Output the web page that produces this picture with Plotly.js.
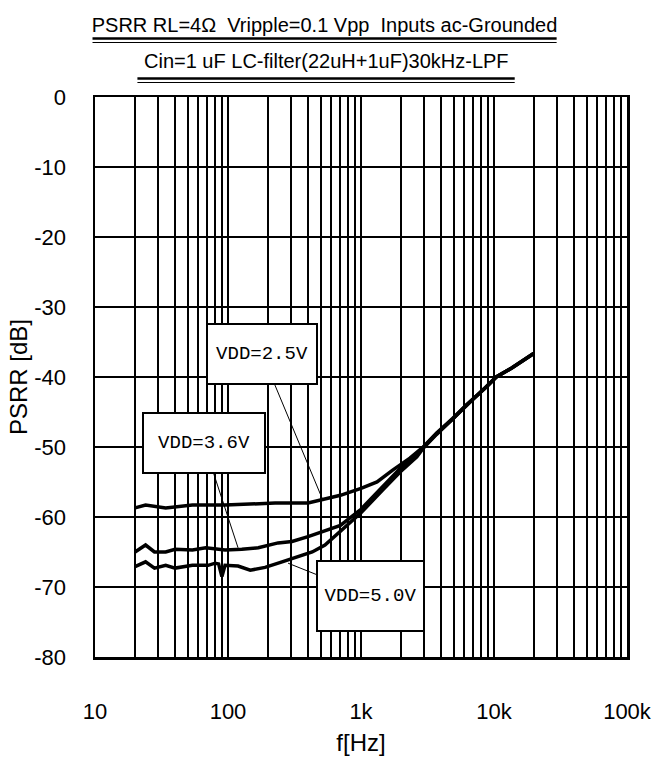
<!DOCTYPE html>
<html>
<head>
<meta charset="utf-8">
<script src="https://cdn.plot.ly/plotly-3.0.1.min.js"></script>
<style>
  html, body { margin: 0; padding: 0; background: #fff; }
  #chart { width: 667px; height: 767px; }
</style>
</head>
<body>
<div id="chart"></div>
<script>
// ---- data ----
const freq25 = [20, 24, 34, 54, 95, 226, 400, 515, 700, 1000, 1320, 1730, 2330, 2900, 3700, 4900, 6200, 8800, 10400, 13600, 20000];
const psrr25 = [-58.7, -58.3, -58.7, -58.3, -58.3, -58.0, -58.0, -57.5, -56.9, -55.9, -55.0, -53.3, -51.6, -50.1, -48.0, -45.9, -44.0, -41.4, -40.0, -38.7, -36.6];

const freq36 = [20, 24, 28, 34, 40, 54, 68, 95, 127, 169, 238, 303, 400, 536, 700, 1000, 1460, 1960, 2630, 2900, 3700, 4900, 6200, 8800, 10400, 13600, 20000];
const psrr36 = [-65.0, -64.0, -65.0, -65.0, -64.6, -64.7, -64.4, -64.7, -64.6, -64.4, -63.7, -63.5, -62.8, -61.9, -61.2, -58.9, -55.6, -53.1, -51.0, -50.2, -48.1, -46.0, -44.0, -41.4, -40.0, -38.7, -36.6];

const freq50 = [20, 24, 28, 34, 40, 54, 71, 80, 85, 90, 95, 119, 147, 190, 255, 336, 430, 536, 700, 1000, 1460, 1960, 2630, 2900, 3700, 4900, 6200, 8800, 10400, 13600, 20000];
const psrr50 = [-67.1, -66.4, -67.3, -66.9, -67.3, -66.9, -66.9, -66.6, -66.7, -68.5, -66.9, -67.0, -67.6, -67.2, -66.4, -65.7, -65.0, -64.0, -62.1, -59.4, -56.1, -53.6, -51.4, -50.3, -48.2, -46.0, -44.0, -41.4, -40.0, -38.7, -36.6];

const xTickVals = [10, 100, 1000, 10000, 100000];
const xTickText = ['10', '100', '1k', '10k', '100k'];
const yTickVals = [0, -10, -20, -30, -40, -50, -60, -70, -80];
const yTickText = ['0', '-10', '-20', '-30', '-40', '-50', '-60', '-70', '-80'];
const minorMultipliers = [2, 3, 4, 5, 6, 7, 8, 9];

const titleLine1 = 'PSRR RL=4\u03A9  Vripple=0.1 Vpp  Inputs ac-Grounded';
const titleLine2 = 'Cin=1 uF LC-filter(22uH+1uF)30kHz-LPF';
const labels = ['VDD=2.5V', 'VDD=3.6V', 'VDD=5.0V'];
// label anchor points on the curves (frequency, dB)
const labelFreq = [517, 119, 283];
const labelDb = [-57.6, -64.4, -66.6];

// ---- layout geometry (pixels) ----
const W = 667, H = 767;
const L = 94.5, R = 627.5, T = 97, B = 657;
const PW = R - L, PH = B - T;
const px = v => (v - L) / PW;
const py = v => (B - v) / PH;

const minorVals = [];
for (const d of [10, 100, 1000, 10000]) for (const m of minorMultipliers) minorVals.push(d * m);

const lineStyle = { color: '#000', width: 3.5 };
const traces = [
  { x: freq25, y: psrr25, name: labels[0], mode: 'lines', line: lineStyle },
  { x: freq36, y: psrr36, name: labels[1], mode: 'lines', line: lineStyle },
  { x: freq50, y: psrr50, name: labels[2], mode: 'lines', line: lineStyle }
];

const boxFont = { family: '"Liberation Mono", "DejaVu Sans Mono", monospace', size: 19, color: '#000' };
const boxes = [
  { cx: 262, cy: 354, w: 108, h: 58 },
  { cx: 203.5, cy: 442.5, w: 120, h: 58 },
  { cx: 370, cy: 596, w: 105, h: 68 }
];

const annotations = labels.map((t, i) => ({
  x: Math.log10(labelFreq[i]), y: labelDb[i], xref: 'x', yref: 'y',
  text: t, font: boxFont,
  showarrow: true, arrowhead: 0, arrowwidth: 1, arrowcolor: '#000',
  axref: 'pixel', ayref: 'pixel',
  ax: 0, ay: 0,
  bgcolor: '#fff', bordercolor: '#000', borderwidth: 2, borderpad: 0,
  width: boxes[i].w, height: boxes[i].h, align: 'center', valign: 'middle'
}));

annotations.push({
  xref: 'paper', yref: 'paper', x: px(326), y: py(61), xanchor: 'center', yanchor: 'middle',
  text: titleLine2, showarrow: false,
  font: { family: '"Liberation Sans", Arial, sans-serif', size: 20, color: '#000' }
});

const shapes = [
  { type: 'line', xref: 'paper', yref: 'paper', x0: px(92), x1: px(557), y0: py(38.5), y1: py(38.5), line: { color: '#000', width: 2.5 } },
  { type: 'line', xref: 'paper', yref: 'paper', x0: px(92), x1: px(557), y0: py(42.5), y1: py(42.5), line: { color: '#000', width: 1 } },
  { type: 'line', xref: 'paper', yref: 'paper', x0: px(137), x1: px(515), y0: py(78.5), y1: py(78.5), line: { color: '#000', width: 2.5 } },
  { type: 'line', xref: 'paper', yref: 'paper', x0: px(137), x1: px(515), y0: py(82.5), y1: py(82.5), line: { color: '#000', width: 1 } }
];

const tickFont = { family: '"Liberation Sans", Arial, sans-serif', size: 22, color: '#000' };

const layout = {
  width: W, height: H,
  margin: { l: L, r: W - R, t: T, b: H - B, pad: 0 },
  paper_bgcolor: '#fff', plot_bgcolor: '#fff',
  showlegend: false,
  title: {
    text: titleLine1,
    x: 324.5 / W, xanchor: 'center', y: 1 - 25 / H, yanchor: 'middle', xref: 'container', yref: 'container',
    font: { family: '"Liberation Sans", Arial, sans-serif', size: 20, color: '#000' }
  },
  xaxis: {
    type: 'log', range: [1, 5], fixedrange: true,
    tickmode: 'array', tickvals: xTickVals, ticktext: xTickText,
    ticks: 'outside', ticklen: 33, tickcolor: 'rgba(0,0,0,0)',
    tickfont: tickFont,
    showgrid: true, gridcolor: '#000', gridwidth: 2,
    minor: { tickmode: 'array', tickvals: minorVals, showgrid: true, gridcolor: '#000', gridwidth: 2, ticks: '' },
    showline: true, linecolor: '#000', linewidth: 2.5, mirror: true,
    zeroline: false,
    title: { text: 'f[Hz]', font: { family: '"Liberation Sans", Arial, sans-serif', size: 24, color: '#000' }, standoff: 12 }
  },
  yaxis: {
    range: [-80, 0], fixedrange: true,
    tickmode: 'array', tickvals: yTickVals, ticktext: yTickText,
    ticks: 'outside', ticklen: 22, tickcolor: 'rgba(0,0,0,0)',
    tickfont: tickFont,
    showgrid: true, gridcolor: '#000', gridwidth: 2,
    showline: true, linecolor: '#000', linewidth: 2.5, mirror: true,
    zeroline: false,
    title: { text: 'PSRR [dB]', font: { family: '"Liberation Sans", Arial, sans-serif', size: 24, color: '#000' }, standoff: 0 }
  },
  annotations: annotations,
  shapes: shapes
};

Plotly.newPlot('chart', traces, layout, { staticPlot: true, displayModeBar: false }).then(gd => {
  // place each label box at its pixel position relative to its anchor point
  const xa = gd._fullLayout.xaxis, ya = gd._fullLayout.yaxis;
  const upd = {};
  labels.forEach((t, i) => {
    const axPx = xa._offset + xa.l2p(Math.log10(labelFreq[i]));
    const ayPx = ya._offset + ya.l2p(labelDb[i]);
    upd['annotations[' + i + '].ax'] = boxes[i].cx - axPx;
    upd['annotations[' + i + '].ay'] = boxes[i].cy - ayPx;
  });
  return Plotly.relayout(gd, upd);
});
</script>
</body>
</html>
